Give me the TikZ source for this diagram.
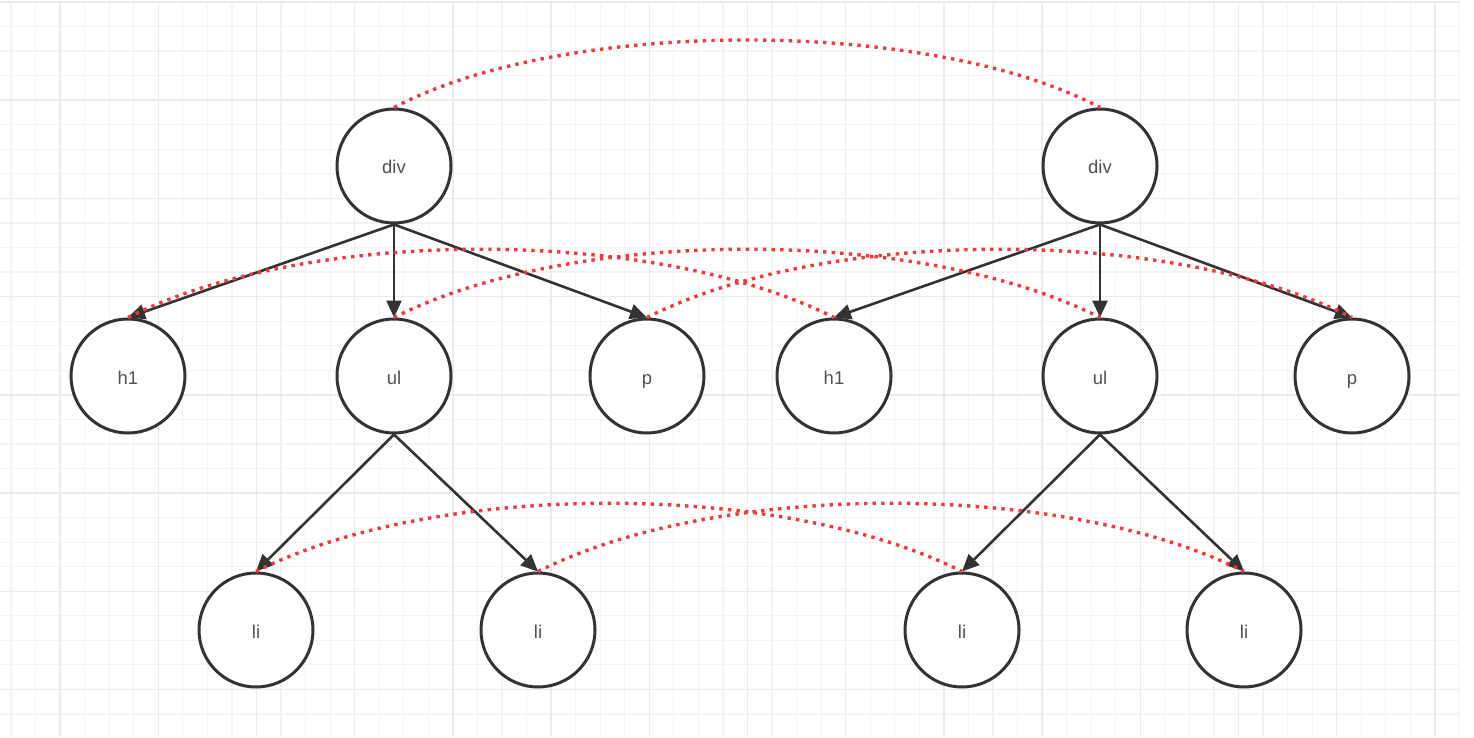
\documentclass[tikz,border=0pt]{standalone}
\usepackage{fontspec}
\setmainfont{Liberation Sans}
\usetikzlibrary{arrows.meta}
\definecolor{edgecol}{HTML}{333333}
\definecolor{dotred}{HTML}{F03A3A}
\definecolor{gridminor}{HTML}{F3F3F3}
\definecolor{gridmajor}{HTML}{EBEBEB}
\begin{document}
\begin{tikzpicture}[x=1pt,y=-1pt,
  treenode/.style={circle, draw=edgecol, line width=3pt, fill=white, minimum size=114pt, inner sep=0pt, font=\fontsize{18.5}{21}\selectfont, text=edgecol!85, text height=16pt, text depth=0pt},
  treeedge/.style={draw=edgecol, line width=2.6pt, -{Triangle[length=17pt,width=15pt]}},
  match/.style={draw=dotred, line width=3.4pt, dash pattern=on 3.4pt off 5.2pt},
  minorline/.style={draw=gridminor, line width=1.2pt},
  majorline/.style={draw=gridmajor, line width=1.4pt}]
\useasboundingbox (0,0) rectangle (1474,738);
\fill[white] (0,0) rectangle (1474,738);
% grid
\foreach \i in {0,...,59} {\draw[minorline] ({11+24.55*\i},2) -- ({11+24.55*\i},736);}
\foreach \j in {0,...,29} {\draw[minorline] (0,{2+24.55*\j}) -- (1460,{2+24.55*\j});}
\foreach \i in {2,6,...,58} {\draw[majorline] ({11+24.55*\i},2) -- ({11+24.55*\i},736);}
\foreach \j in {0,4,...,28} {\draw[majorline] (0,{2+24.55*\j}) -- (1460,{2+24.55*\j});}
% nodes
\node[treenode] (div1) at (394,166) {div};
\node[treenode] (div2) at (1100,166) {div};
\node[treenode] (h1a) at (128,376) {h1};
\node[treenode] (ula) at (394,376) {ul};
\node[treenode] (pa) at (647,376) {p};
\node[treenode] (h1b) at (834,376) {h1};
\node[treenode] (ulb) at (1100,376) {ul};
\node[treenode] (pb) at (1352,376) {p};
\node[treenode] (lia) at (256,630) {li};
\node[treenode] (lib) at (538,630) {li};
\node[treenode] (lic) at (962,630) {li};
\node[treenode] (lid) at (1244,630) {li};
% tree edges
\draw[treeedge] (div1.south) -- (h1a.north);
\draw[treeedge] (div1.south) -- (ula.north);
\draw[treeedge] (div1.south) -- (pa.north);
\draw[treeedge] (div2.south) -- (h1b.north);
\draw[treeedge] (div2.south) -- (ulb.north);
\draw[treeedge] (div2.south) -- (pb.north);
\draw[treeedge] (ula.south) -- (lia.north);
\draw[treeedge] (ula.south) -- (lib.north);
\draw[treeedge] (ulb.south) -- (lic.north);
\draw[treeedge] (ulb.south) -- (lid.north);
% matching curves
\draw[match] (div1.north) .. controls +(170,-90) and +(-170,-90) .. (div2.north);
\draw[match] (h1a.north) .. controls +(180,-91) and +(-180,-91) .. (h1b.north);
\draw[match] (ula.north) .. controls +(180,-91) and +(-180,-91) .. (ulb.north);
\draw[match] (pa.north) .. controls +(180,-91) and +(-180,-91) .. (pb.north);
\draw[match] (lia.north) .. controls +(180,-91) and +(-180,-91) .. (lic.north);
\draw[match] (lib.north) .. controls +(180,-91) and +(-180,-91) .. (lid.north);
\end{tikzpicture}
\end{document}
